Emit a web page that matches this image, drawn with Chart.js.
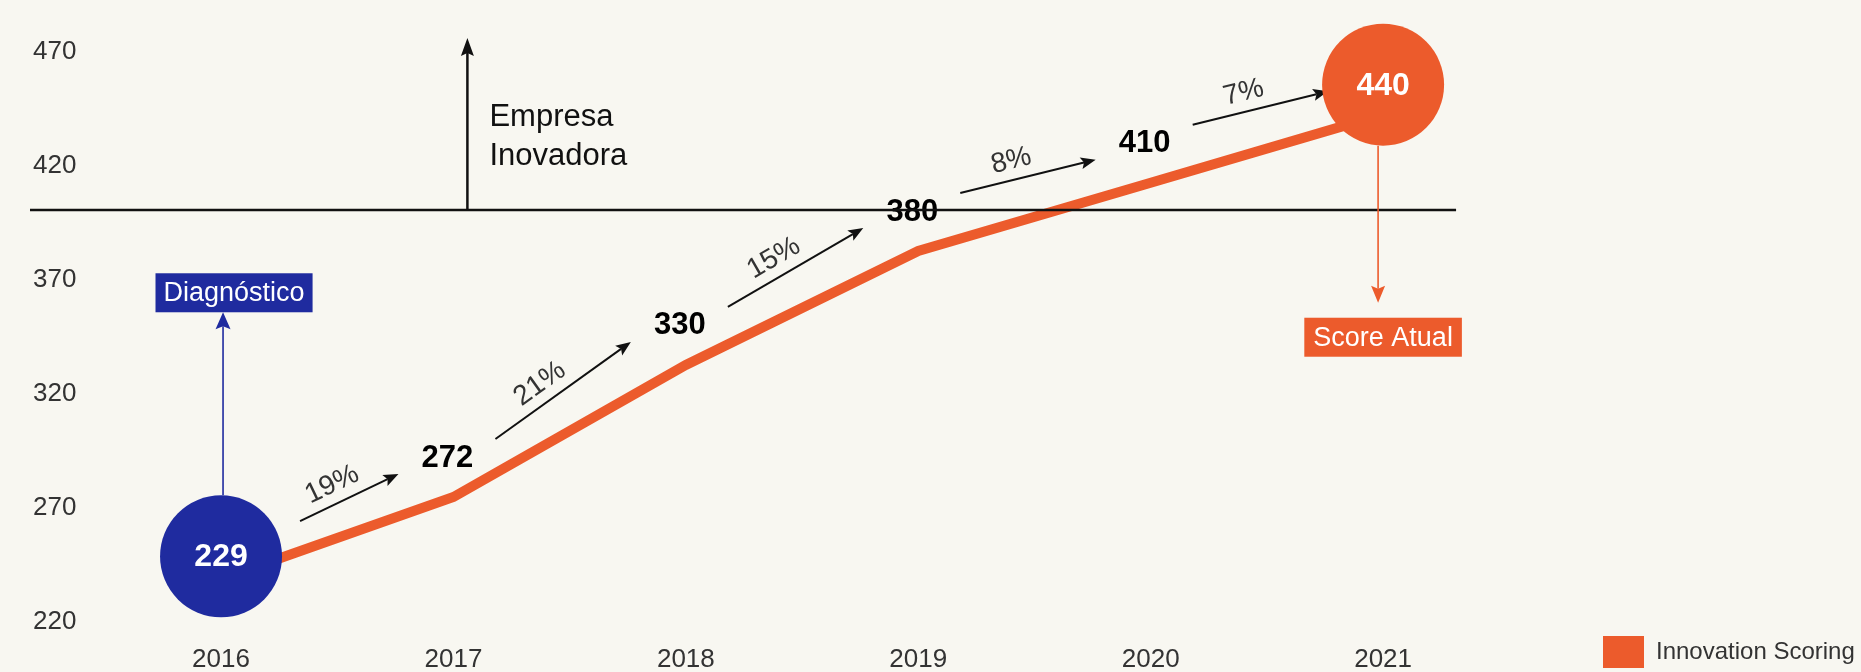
<!DOCTYPE html>
<html><head><meta charset="utf-8">
<script src="https://cdn.jsdelivr.net/npm/chart.js@4.4.1/dist/chart.umd.min.js"></script>
<style>
html,body{margin:0;padding:0;background:#F8F7F1;}
canvas{display:block;}
</style></head>
<body>
<canvas id="c" width="1861" height="672"></canvas>
<script>
// ---- data ----
const years = [2016, 2017, 2018, 2019, 2020, 2021];
const lineScores = [236, 272, 330, 380, 410, 440];
const scoreLabels = ['229', '272', '330', '380', '410', '440'];
const growthLabels = ['19%', '21%', '15%', '8%', '7%'];
const yTicks = [220, 270, 320, 370, 420, 470];
const markerYears = [2016, 2021];
const markerValues = [246, 453];
const markerTexts = ['229', '440'];
const thresholdValue = 398;
const thresholdRange = [2015.178, 2021.314];
const thresholdArrowYear = 2017.06;
const thresholdArrowTopValue = 473.5;
const thresholdCaption = ['Empresa', 'Inovadora'];
const calloutTexts = ['Diagnóstico', 'Score Atual'];
const seriesName = 'Innovation Scoring';

// ---- styles ----
const ORANGE = '#EC5B2C';
const BLUE = '#1F2B9F';
const INK = '#111111';
const GRAY = '#333333';
const FAMILY = "'Liberation Sans', Arial, Helvetica, sans-serif";
Chart.defaults.font.family = FAMILY;

function arrow(ctx, x1, y1, x2, y2, color, lw, headLen, headW) {
  const ang = Math.atan2(y2 - y1, x2 - x1);
  const c = Math.cos(ang), s = Math.sin(ang);
  const bx = x2 - headLen * c, by = y2 - headLen * s;
  const nx = bx + 3 * c, ny = by + 3 * s;
  ctx.save();
  ctx.strokeStyle = color; ctx.fillStyle = color; ctx.lineWidth = lw;
  ctx.beginPath(); ctx.moveTo(x1, y1); ctx.lineTo(nx, ny); ctx.stroke();
  ctx.beginPath();
  ctx.moveTo(x2, y2);
  ctx.lineTo(bx + headW / 2 * s, by - headW / 2 * c);
  ctx.lineTo(nx, ny);
  ctx.lineTo(bx - headW / 2 * s, by + headW / 2 * c);
  ctx.closePath(); ctx.fill();
  ctx.restore();
}

const annotations = {
  id: 'annotations',
  beforeDatasetsDraw(chart) {
    const ctx = chart.ctx;
    const pts = chart.getDatasetMeta(2).data;
    const xs = chart.scales.x, ys = chart.scales.y;
    // growth arrows with rotated percentages
    for (let i = 0; i < growthLabels.length; i++) {
      const x1 = pts[i].x + (i === 0 ? 79 : 42), y1 = pts[i].y - 58;
      const x2 = pts[i + 1].x - 55, y2 = pts[i + 1].y - 23;
      arrow(ctx, x1, y1, x2, y2, INK, 2, 15, 12);
      const dx = x2 - x1, dy = y2 - y1, d = Math.hypot(dx, dy);
      const ux = dx / d, uy = dy / d;
      const cx = x1 + dx * 0.41 + uy * 19, cy = y1 + dy * 0.41 - ux * 19;
      ctx.save();
      ctx.translate(cx, cy);
      ctx.rotate(Math.atan2(dy, dx));
      ctx.font = '28px ' + FAMILY;
      ctx.fillStyle = GRAY; ctx.textAlign = 'center'; ctx.textBaseline = 'middle';
      ctx.fillText(growthLabels[i], 0, 0);
      ctx.restore();
    }
    // value labels
    ctx.save();
    ctx.font = 'bold 31px ' + FAMILY;
    ctx.fillStyle = '#000'; ctx.textAlign = 'center'; ctx.textBaseline = 'middle';
    for (let i = 1; i < years.length - 1; i++) {
      ctx.fillText(scoreLabels[i], pts[i].x - 6, pts[i].y - 39);
    }
    ctx.restore();
    // "Empresa Inovadora" arrow
    const ax = xs.getPixelForValue(thresholdArrowYear);
    const ay = ys.getPixelForValue(thresholdValue);
    const at = ys.getPixelForValue(thresholdArrowTopValue);
    arrow(ctx, ax, ay, ax, at, INK, 2.5, 18, 13);
    ctx.save();
    ctx.font = '31px ' + FAMILY;
    ctx.fillStyle = INK; ctx.textAlign = 'left'; ctx.textBaseline = 'alphabetic';
    ctx.fillText(thresholdCaption[0], ax + 22, ay - 84);
    ctx.fillText(thresholdCaption[1], ax + 22, ay - 45);
    ctx.restore();
  },
  afterDatasetsDraw(chart) {
    const ctx = chart.ctx;
    const m = chart.getDatasetMeta(0).data;
    const R = 61;
    ctx.save();
    ctx.font = 'bold 32px ' + FAMILY;
    ctx.fillStyle = '#fff'; ctx.textAlign = 'center'; ctx.textBaseline = 'middle';
    m.forEach((p, i) => ctx.fillText(markerTexts[i], p.x, p.y + 1));
    ctx.restore();
    // Diagnóstico callout
    const boxH = 39;
    ctx.save();
    ctx.font = '27px ' + FAMILY;
    const p0 = m[0];
    const tip0 = p0.y - R - 183;
    arrow(ctx, p0.x + 2, p0.y - R, p0.x + 2, tip0, BLUE, 1.6, 17, 15);
    let w = ctx.measureText(calloutTexts[0]).width + 16;
    const bx0 = p0.x + 13 - w / 2;
    ctx.fillStyle = BLUE;
    ctx.fillRect(bx0, tip0 - boxH, w, boxH);
    ctx.fillStyle = '#fff'; ctx.textAlign = 'center'; ctx.textBaseline = 'middle';
    ctx.fillText(calloutTexts[0], p0.x + 13, tip0 - boxH / 2 + 1);
    // Score Atual callout
    const p1 = m[1];
    const tip1 = p1.y + R + 157;
    arrow(ctx, p1.x - 5, p1.y + R, p1.x - 5, tip1, ORANGE, 1.6, 17, 14);
    w = ctx.measureText(calloutTexts[1]).width + 18;
    ctx.fillStyle = ORANGE;
    ctx.fillRect(p1.x - w / 2, tip1 + 15, w, boxH);
    ctx.fillStyle = '#fff';
    ctx.fillText(calloutTexts[1], p1.x, tip1 + 15 + boxH / 2 + 1);
    ctx.restore();
  }
};

new Chart(document.getElementById('c'), {
  type: 'line',
  data: {
    datasets: [
      {
        label: 'markers',
        data: markerYears.map((x, i) => ({ x, y: markerValues[i] })),
        showLine: false,
        pointRadius: 61, pointHoverRadius: 61,
        pointBackgroundColor: [BLUE, ORANGE],
        pointBorderWidth: 0, pointBorderColor: 'rgba(0,0,0,0)',
        clip: false, order: 0
      },
      {
        label: 'threshold',
        data: thresholdRange.map(x => ({ x, y: thresholdValue })),
        borderColor: INK, borderWidth: 2.5, pointRadius: 0,
        clip: false, order: 1
      },
      {
        label: seriesName,
        data: years.map((x, i) => ({ x, y: lineScores[i] })),
        borderColor: ORANGE, backgroundColor: ORANGE,
        borderWidth: 10, pointRadius: 0, tension: 0,
        borderJoinStyle: 'miter', fill: false, order: 2
      }
    ]
  },
  options: {
    responsive: false,
    animation: false,
    devicePixelRatio: 1,
    events: [],
    layout: { autoPadding: false, padding: { left: 30, top: 46, right: 0, bottom: 0 } },
    scales: {
      x: {
        type: 'linear',
        min: 2015.178, max: 2021.929,
        grid: { display: false, drawTicks: false },
        border: { display: false },
        afterBuildTicks: s => { s.ticks = years.map(v => ({ value: v })); },
        afterFit: s => { s.height = 56.5; s.paddingLeft = 0; s.paddingRight = 0; },
        ticks: {
          autoSkip: false, maxRotation: 0, padding: 29,
          color: GRAY, font: { size: 26, lineHeight: 1.2 },
          callback: v => String(v)
        }
      },
      y: {
        min: 220, max: 470,
        grid: { display: false, drawTicks: false },
        border: { display: false },
        afterBuildTicks: s => { s.ticks = yTicks.map(v => ({ value: v })); },
        afterFit: s => { s.width = 0; s.paddingTop = 0; s.paddingBottom = 0; },
        ticks: {
          mirror: true, padding: 3, labelOffset: 6,
          color: GRAY, font: { size: 26 },
          callback: v => String(v)
        }
      }
    },
    plugins: {
      tooltip: { enabled: false },
      legend: {
        position: 'right', align: 'end', maxWidth: 262,
        labels: {
          boxWidth: 41, boxHeight: 32, padding: 4,
          color: GRAY, font: { size: 24 },
          generateLabels: () => [{
            text: seriesName, fillStyle: ORANGE, strokeStyle: ORANGE,
            lineWidth: 0, hidden: false, datasetIndex: 2, fontColor: GRAY
          }]
        }
      }
    }
  },
  plugins: [annotations]
});
</script>
</body></html>
